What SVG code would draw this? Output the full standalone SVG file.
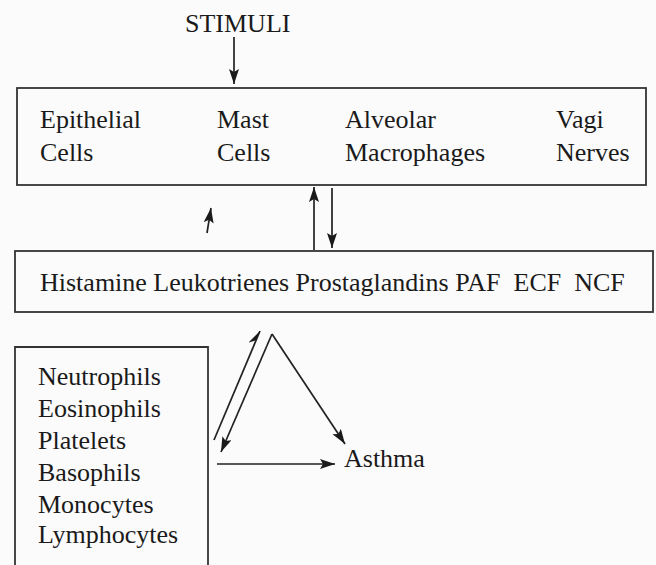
<svg xmlns="http://www.w3.org/2000/svg" width="656" height="565" viewBox="0 0 656 565">
<style>
  text { font-family: "Liberation Serif", serif; font-size: 26px; fill: #1a1a1a; }
  .box { fill: none; stroke: #333; stroke-width: 1.8; }
  .ln { fill: none; stroke: #222; stroke-width: 1.7; }
</style>
<defs>
  <marker id="ah" markerUnits="userSpaceOnUse" markerWidth="16" markerHeight="12" refX="15" refY="5" orient="auto">
    <path d="M0,0 L15,5 L0,10 L3,5 z" fill="#1a1a1a"/>
  </marker>
  <marker id="harp" markerUnits="userSpaceOnUse" markerWidth="16" markerHeight="12" refX="15" refY="6" orient="auto">
    <path d="M0,0 L15,6 L5,6 z" fill="#1a1a1a"/>
  </marker>
</defs>
<rect width="656" height="565" fill="#fbfbfb"/>

<g id="stimuli">
  <text x="185" y="32">STIMULI</text>
</g>

<g id="cells">
  <rect class="box" x="17" y="88" width="629" height="97"/>
  <text x="40" y="128">Epithelial</text>
  <text x="40" y="161">Cells</text>
  <text x="217" y="128">Mast</text>
  <text x="217" y="161">Cells</text>
  <text x="345" y="128">Alveolar</text>
  <text x="345" y="161">Macrophages</text>
  <text x="556" y="128">Vagi</text>
  <text x="556" y="161">Nerves</text>
</g>

<g id="mediators">
  <rect class="box" x="15" y="251" width="638" height="61"/>
  <text x="40" y="291" xml:space="preserve">Histamine Leukotrienes Prostaglandins PAF  ECF  NCF</text>
</g>

<g id="blood-cells">
  <path class="box" d="M15,570 V347 H208 V570"/>
  <text x="38" y="385">Neutrophils</text>
  <text x="38" y="417">Eosinophils</text>
  <text x="38" y="449">Platelets</text>
  <text x="38" y="481">Basophils</text>
  <text x="38" y="513">Monocytes</text>
  <text x="38" y="543">Lymphocytes</text>
</g>

<g id="asthma">
  <text x="344" y="467">Asthma</text>
</g>

<g id="connectors">
  <line class="ln" x1="234" y1="37" x2="234" y2="84" marker-end="url(#ah)"/>
  <line class="ln" x1="207" y1="233" x2="211" y2="208" marker-end="url(#ah)"/>
  <line class="ln" x1="314" y1="250" x2="314" y2="187" marker-end="url(#ah)"/>
  <line class="ln" x1="332" y1="188" x2="332" y2="248" marker-end="url(#ah)"/>
  <line class="ln" x1="214" y1="440" x2="260" y2="331" marker-end="url(#harp)"/>
  <line class="ln" x1="272" y1="334" x2="221" y2="452" marker-end="url(#ah)"/>
  <line class="ln" x1="272" y1="334" x2="345" y2="444" marker-end="url(#ah)"/>
  <line class="ln" x1="217" y1="464" x2="335" y2="464" marker-end="url(#ah)"/>
</g>
</svg>
